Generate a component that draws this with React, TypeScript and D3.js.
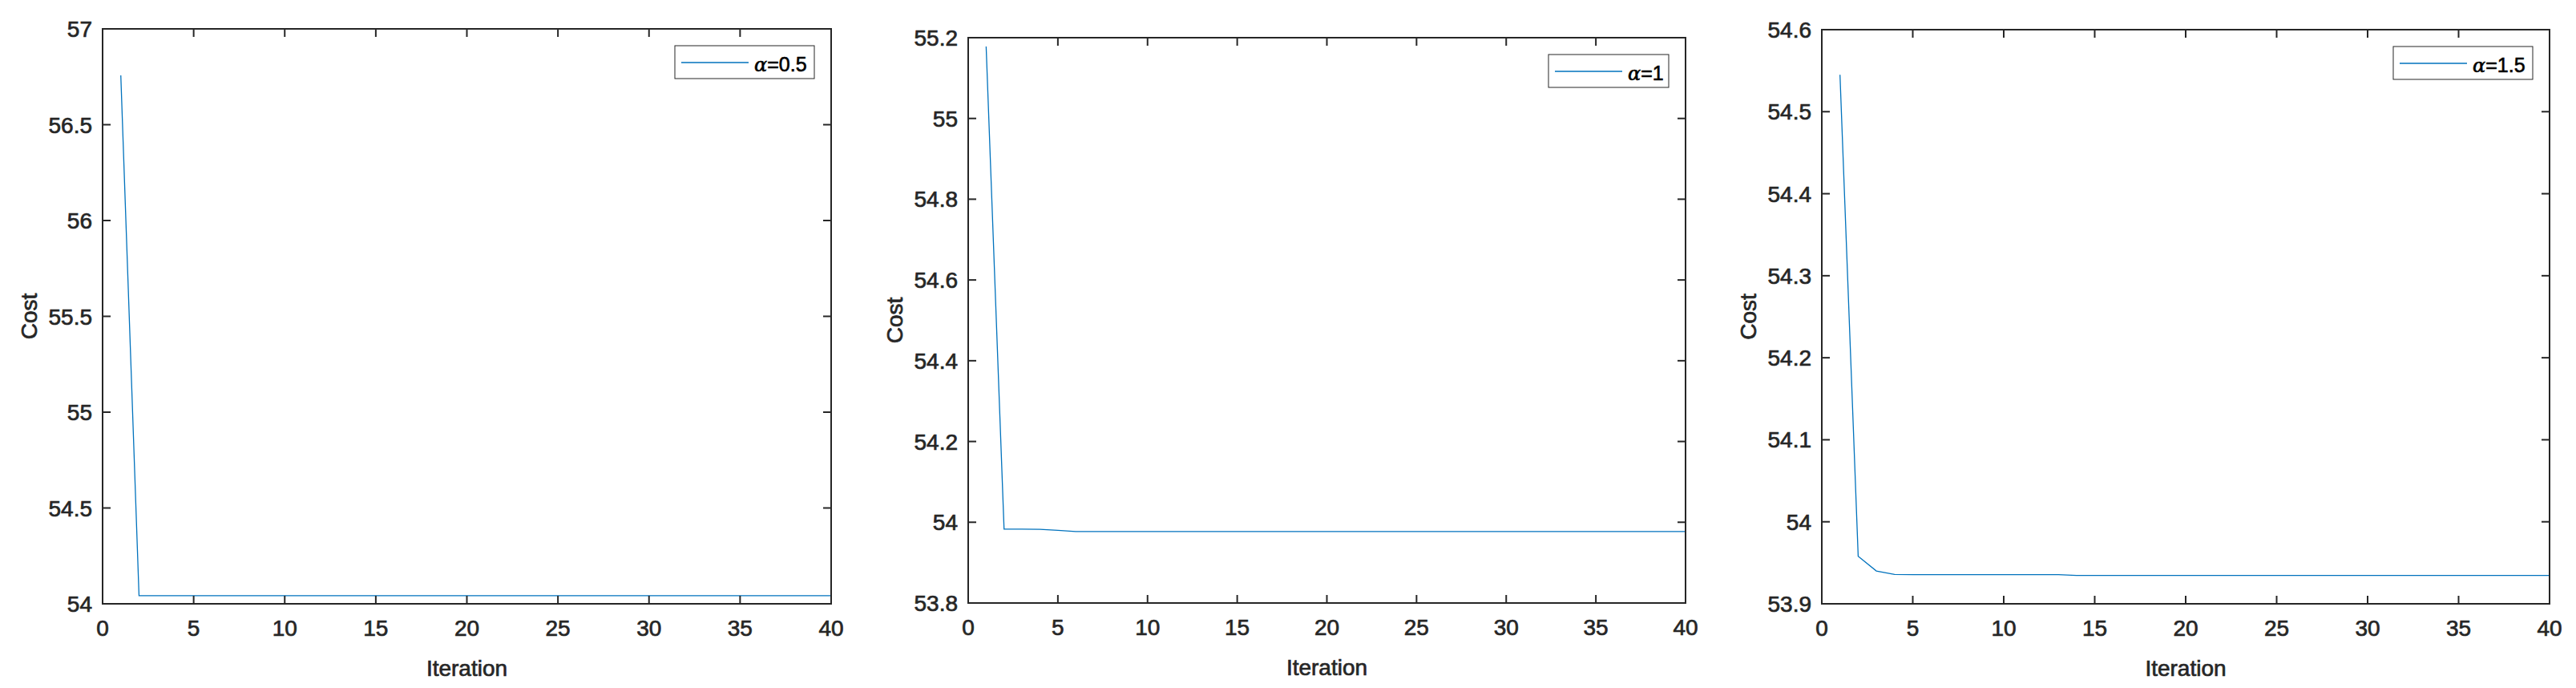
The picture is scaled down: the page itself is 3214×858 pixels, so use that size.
import React from "react";
import * as d3 from "d3";

const iterations = [
  1, 2, 3, 4, 5, 6, 7, 8, 9, 10, 11, 12, 13, 14, 15, 16, 17, 18, 19, 20,
  21, 22, 23, 24, 25, 26, 27, 28, 29, 30, 31, 32, 33, 34, 35, 36, 37, 38, 39, 40,
];

const costAlpha05 = [
  56.757, 54.042, 54.042, 54.042, 54.042, 54.042, 54.042, 54.042, 54.042, 54.042,
  54.042, 54.042, 54.042, 54.042, 54.042, 54.042, 54.042, 54.042, 54.042, 54.042,
  54.042, 54.042, 54.042, 54.042, 54.042, 54.042, 54.042, 54.042, 54.042, 54.042,
  54.042, 54.042, 54.042, 54.042, 54.042, 54.042, 54.042, 54.042, 54.042, 54.042,
];

const costAlpha1 = [
  55.178, 53.983, 53.9828, 53.9825, 53.98, 53.977, 53.977, 53.977, 53.977, 53.977,
  53.977, 53.977, 53.977, 53.977, 53.977, 53.977, 53.977, 53.977, 53.977, 53.977,
  53.977, 53.977, 53.977, 53.977, 53.977, 53.977, 53.977, 53.977, 53.977, 53.977,
  53.977, 53.977, 53.977, 53.977, 53.977, 53.977, 53.977, 53.977, 53.977, 53.977,
];

const costAlpha15 = [
  54.545, 53.958, 53.94, 53.9358, 53.9356, 53.9356, 53.9356, 53.9356, 53.9356, 53.9356,
  53.9356, 53.9356, 53.9356, 53.9346, 53.9346, 53.9346, 53.9346, 53.9346, 53.9346, 53.9346,
  53.9346, 53.9346, 53.9346, 53.9346, 53.9346, 53.9346, 53.9346, 53.9346, 53.9346, 53.9346,
  53.9346, 53.9346, 53.9346, 53.9346, 53.9346, 53.9346, 53.9346, 53.9346, 53.9346, 53.9346,
];

const xTicks = [0, 5, 10, 15, 20, 25, 30, 35, 40];
const yTicks05 = [54, 54.5, 55, 55.5, 56, 56.5, 57];
const yTicks1 = [53.8, 54, 54.2, 54.4, 54.6, 54.8, 55, 55.2];
const yTicks15 = [53.9, 54, 54.1, 54.2, 54.3, 54.4, 54.5, 54.6];
const legendValues = ["0.5", "1", "1.5"];

const panels = [
  { values: costAlpha05, yTicks: yTicks05, yDomain: [54, 57], legend: legendValues[0],
    left: 128, right: 1037, top: 36, bottom: 753, legendW: 174 },
  { values: costAlpha1, yTicks: yTicks1, yDomain: [53.8, 55.2], legend: legendValues[1],
    left: 1208, right: 2103, top: 47, bottom: 752, legendW: 150 },
  { values: costAlpha15, yTicks: yTicks15, yDomain: [53.9, 54.6], legend: legendValues[2],
    left: 2273, right: 3181, top: 37, bottom: 753, legendW: 174 },
];

const AXIS = "#262626";
const LINE = "#0072BD";
const FONT = "'Liberation Sans', Arial, Helvetica, sans-serif";

function Panel({ p }: { p: any }) {
  const x = d3.scaleLinear().domain([0, 40]).range([p.left, p.right]);
  const y = d3.scaleLinear().domain(p.yDomain).range([p.bottom, p.top]);
  const line = d3
    .line<number>()
    .x((_, i) => x(iterations[i]))
    .y((d) => y(d));
  const tl = 10;
  const lgRight = p.right - 21;
  const lgTop = p.top + 21;
  const lgLeft = lgRight - p.legendW;
  const lgH = 41;
  const heavy = { stroke: AXIS, strokeWidth: 0.7 };
  return (
    <g>
      <path d={line(p.values) || ""} fill="none" stroke={LINE} strokeWidth={1.3} />
      {xTicks.map((t) => (
        <g key={"x" + t}>
          <line x1={x(t)} x2={x(t)} y1={p.bottom} y2={p.bottom - tl} stroke={AXIS} strokeWidth={2} />
          <line x1={x(t)} x2={x(t)} y1={p.top} y2={p.top + tl} stroke={AXIS} strokeWidth={2} />
          <text x={x(t)} y={p.bottom + 40} textAnchor="middle" fontSize={28} fill={AXIS} fontFamily={FONT} {...heavy}>
            {t}
          </text>
        </g>
      ))}
      {p.yTicks.map((t: number) => (
        <g key={"y" + t}>
          <line x1={p.left} x2={p.left + tl} y1={y(t)} y2={y(t)} stroke={AXIS} strokeWidth={2} />
          <line x1={p.right} x2={p.right - tl} y1={y(t)} y2={y(t)} stroke={AXIS} strokeWidth={2} />
          <text x={p.left - 13} y={y(t) + 10} textAnchor="end" fontSize={28} fill={AXIS} fontFamily={FONT} {...heavy}>
            {d3.format("~g")(t)}
          </text>
        </g>
      ))}
      <rect x={p.left} y={p.top} width={p.right - p.left} height={p.bottom - p.top} fill="none" stroke={AXIS} strokeWidth={2} />
      <text x={(p.left + p.right) / 2} y={p.bottom + 90} textAnchor="middle" fontSize={28} fill={AXIS} fontFamily={FONT} {...heavy}>
        Iteration
      </text>
      <text
        transform={`translate(${p.left - 82},${(p.top + p.bottom) / 2}) rotate(-90)`}
        textAnchor="middle"
        fontSize={28}
        fill={AXIS}
        fontFamily={FONT}
        {...heavy}
      >
        Cost
      </text>
      <rect x={lgLeft} y={lgTop} width={p.legendW} height={lgH} fill="#fff" stroke={AXIS} strokeWidth={1} />
      <line x1={lgLeft + 8} x2={lgLeft + 92} y1={lgTop + 21} y2={lgTop + 21} stroke={LINE} strokeWidth={1.3} />
      <text x={lgLeft + 99} y={lgTop + 32} fontSize={25} fill="#000" fontFamily={FONT} stroke="#000" strokeWidth={0.6}>
        <tspan fontFamily="'DejaVu Serif', 'Liberation Serif', serif" fontStyle="italic" fontSize={24}>α</tspan>
        <tspan>={p.legend}</tspan>
      </text>
    </g>
  );
}

export default function App() {
  return (
    <svg
      width={3214}
      height={858}
      style={{ position: "absolute", left: 0, top: 0, background: "#fff" }}
    >
      <rect x={0} y={0} width={3214} height={858} fill="#fff" />
      {panels.map((p, i) => (
        <Panel key={i} p={p} />
      ))}
    </svg>
  );
}
